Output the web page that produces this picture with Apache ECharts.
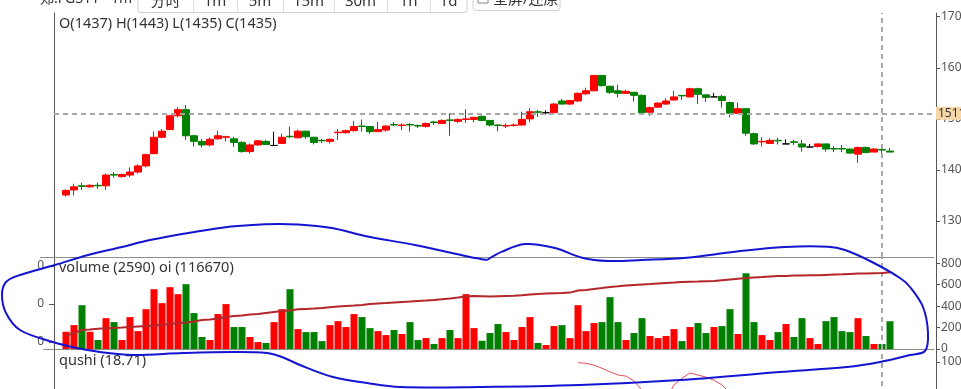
<!DOCTYPE html>
<html><head><meta charset="utf-8">
<script src="https://cdn.jsdelivr.net/npm/echarts@6/dist/echarts.min.js"></script>
<style>html,body{margin:0;padding:0;background:#fff;overflow:hidden}#chart{width:961px;height:389px}</style>
</head><body><div id="chart"></div>
<script>
// ---------- data ----------
const opens  = [1351,1361,1369,1367,1370,1369,1391,1387,1390,1396,1408,1432,1464,1479,1506,1518,1467,1456,1449,1461,1464,1461,1454,1436,1449,1456,1448,1452,1466,1463,1476,1464,1458,1456,1473,1473,1477,1486,1485,1475,1478,1489,1487,1489,1487,1485,1494,1491,1498,1495,1499,1499,1505,1497,1488,1486,1487,1488,1500,1514,1512,1512,1535,1529,1535,1549,1555,1585,1564,1555,1550,1552,1546,1513,1523,1529,1537,1546,1543,1559,1547,1543,1544,1532,1511,1520,1471,1455,1452,1458,1451,1455,1451,1445,1446,1451,1442,1442,1441,1431,1444,1435,1440,1437];
const closes = [1360,1367,1368,1370,1369,1390,1390,1391,1396,1408,1430,1464,1476,1506,1518,1467,1456,1449,1460,1467,1465,1454,1436,1449,1457,1450,1448,1464,1465,1476,1465,1454,1457,1460,1474,1477,1485,1485,1475,1479,1486,1488,1488,1488,1486,1491,1493,1497,1497,1499,1500,1503,1497,1488,1487,1487,1488,1499,1514,1513,1512,1529,1529,1536,1550,1555,1585,1565,1552,1550,1554,1546,1512,1522,1531,1535,1543,1545,1559,1548,1542,1543,1536,1511,1520,1472,1451,1456,1458,1457,1451,1454,1445,1445,1451,1441,1441,1441,1433,1444,1434,1441,1439,1435];
const lows   = [1348,1350,1361,1365,1363,1361,1385,1385,1386,1393,1405,1431,1462,1478,1503,1459,1446,1444,1446,1459,1456,1445,1434,1432,1447,1449,1448,1451,1462,1462,1461,1450,1453,1452,1459,1471,1475,1475,1471,1475,1475,1486,1478,1475,1482,1483,1488,1490,1467,1492,1492,1493,1496,1485,1476,1482,1485,1487,1493,1504,1509,1510,1528,1527,1533,1547,1554,1563,1549,1542,1549,1534,1511,1506,1521,1527,1536,1537,1542,1529,1533,1543,1522,1503,1510,1467,1449,1446,1452,1450,1451,1449,1436,1445,1444,1436,1435,1435,1432,1414,1433,1435,1433,1435];
const highs  = [1362,1373,1375,1372,1375,1393,1396,1393,1405,1411,1432,1475,1480,1508,1523,1527,1469,1461,1464,1477,1467,1465,1456,1452,1459,1459,1475,1471,1485,1479,1477,1465,1461,1462,1480,1479,1496,1499,1486,1494,1487,1494,1491,1492,1489,1493,1496,1499,1511,1501,1519,1504,1507,1497,1490,1491,1491,1514,1521,1518,1517,1531,1539,1536,1552,1561,1586,1586,1564,1567,1557,1552,1548,1524,1532,1540,1555,1546,1561,1561,1547,1551,1547,1534,1532,1520,1473,1464,1462,1463,1460,1459,1459,1451,1452,1451,1447,1449,1441,1446,1446,1443,1445,1443];
const volumes = [1610,2230,4090,1610,840,2880,2510,840,2980,1670,3720,5580,4280,5770,5120,6050,3350,1120,840,3260,4190,2050,2050,1120,650,560,2510,3720,5580,1860,1580,1580,740,2230,2600,2050,3260,2980,1950,1670,1300,1770,1400,2510,840,1020,470,1020,1770,1020,5120,1950,770,1490,2330,1580,840,2050,2980,560,370,2140,2230,1020,4090,1670,2420,2510,4840,2510,840,1490,2880,1210,1020,1210,1860,740,2050,2420,1490,2050,2140,3720,1400,7070,2510,1300,840,1580,2330,1120,2880,1020,470,2600,2980,1670,1580,2880,1210,470,470,2590];
const openInterest = [113320,113470,113630,113660,113700,113720,113740,113760,113790,113820,113840,113870,113910,113950,114000,114030,114080,114160,114180,114240,114320,114370,114400,114450,114470,114530,114580,114630,114660,114720,114740,114760,114790,114830,114870,114900,114920,114950,115000,115030,115050,115080,115110,115130,115160,115180,115210,115250,115290,115340,115400,115420,115410,115400,115410,115420,115430,115460,115500,115530,115550,115570,115580,115600,115710,115740,115790,115840,115900,115930,115970,116000,116030,116050,116080,116110,116130,116160,116170,116180,116200,116210,116250,116290,116330,116370,116400,116420,116450,116470,116480,116500,116500,116510,116510,116530,116550,116560,116580,116600,116610,116620,116630,116670];
const qushi = ['-','-','-','-','-','-','-','-','-','-','-','-','-','-','-','-','-','-','-','-','-','-','-','-','-','-','-','-','-','-','-','-','-','-','-','-','-','-','-','-','-','-','-','-','-','-','-','-','-','-','-','-','-','-','-','-','-','-','-','-','-','-','-','-',98.7,97.5,94,88,81,75,73,63.5,46,35,30,30,56,69,79,75,71,65,56,40,35,30,22,15,10,8,5,4,6,8,10,12,14,15,16,17,17.5,18,18.4,18.71];
const startMinute = 21 * 60;   // category labels (not shown)
const times = opens.map((_, i) => { const m = startMinute + i; return String(Math.floor(m / 60) % 24).padStart(2, '0') + ':' + String(m % 60).padStart(2, '0'); });
const priceTicks = [1300, 1400, 1500, 1600, 1700];
const volumeTicks = [0, 2000, 4000, 6000, 8000];
const oiTicks = [113000, 115000, 117000];
const qushiTicks = [100];
const hoverIndex = 102;
const hoverPrice = 1511;
const toolbarButtons = ['分时', '1m', '5m', '15m', '30m', '1h', '1d'];
// ---------------------------------------------------

const RED = '#ff0000', GREEN = '#008000';
const FONT = '"Noto Sans", "Noto Sans CJK SC", sans-serif';
const LEAD = 1, TRAIL = 5;
const cats = ['s0'].concat(times, ['e1', 'e2', 'e3', 'e4', 'e5']);
const pad = arr => ['-'].concat(arr, new Array(TRAIL).fill('-'));
const last = opens.length - 1;

const candleData = pad(opens.map((o, i) => [o, closes[i], lows[i], highs[i]]));
const volData = pad(volumes.map((v, i) => ({ value: v, itemStyle: { color: closes[i] >= opens[i] ? RED : GREEN } })));
const oiData = pad(openInterest);
const qData = pad(qushi);
const hoverCat = cats[hoverIndex + LEAD];

const dashStyle = { color: '#a8a8a8', width: 2, type: [5, 4] };
const vLine = { silent: true, symbol: ['none', 'none'], animation: false, label: { show: false }, lineStyle: dashStyle, data: [{ xAxis: hoverCat }] };

const xBase = (g, line) => ({
  type: 'category', gridIndex: g, data: cats, boundaryGap: true,
  axisLabel: { show: false }, axisTick: { show: false }, splitLine: { show: false },
  axisLine: { show: line, onZero: false, lineStyle: { color: '#8c8c8c', width: 1 } }
});
const axisCol = '#555';
const plain = v => String(v);
const rightAxis = (g, min, max, ticks) => ({
  type: 'value', gridIndex: g, position: 'right', offset: 2, min, max,
  splitLine: { show: false },
  axisLine: { show: true, onZero: false, lineStyle: { color: axisCol } },
  axisTick: { show: true, length: 4, customValues: ticks, lineStyle: { color: axisCol } },
  axisLabel: { show: true, customValues: ticks, margin: 5, color: '#555', fontSize: 12, fontFamily: FONT, formatter: plain }
});

const grids = [
  { left: 54, top: 13, width: 880, height: 244, outerBoundsMode: 'none', containLabel: false },
  { left: 54, top: 257, width: 880, height: 92, outerBoundsMode: 'none', containLabel: false },
  { left: 54, top: 349, width: 880, height: 100, outerBoundsMode: 'none', containLabel: false }
];

// blue hand-drawn annotation ring (decoration)
const ring = [[487,260],[470,257],[452,253],[415,245],[365,236],[332,228],[298,224.5],[265,224.3],[222,227.7],[150,240],[122,247],[88,255],[55,265],[20,275],[6,282],[2,295],[6,313],[20,330],[53,342],[77,348],[100,352],[133,355],[183,353],[233,352],[267,353],[282,357],[300,365],[333,377],[367,383],[400,387],[480,387],[580,385],[680,380],[780,372],[847,367],[880,362],[910,355],[925,351],[928,333],[923,307],[910,287],[900,278],[872,262],[845,250],[828,246.7],[785,247],[735,251.7],[687,257.7],[642,260],[608,261],[582,257.7],[555,248],[525,244],[502,251.7],[487,260]];

const btnEdges = [138, 193, 237, 283, 334, 387, 430, 467];
const graphics = [];
graphics.push({ type: 'rect', shape: { x: btnEdges[0], y: -20, width: btnEdges[btnEdges.length - 1] - btnEdges[0], height: 32.5, r: 3 }, style: { fill: '#fff', stroke: '#cfcfcf', lineWidth: 1 }, z: 50 });
toolbarButtons.forEach((b, i) => {
  if (i > 0) graphics.push({ type: 'line', shape: { x1: btnEdges[i] + 0.5, y1: -20, x2: btnEdges[i] + 0.5, y2: 12 }, style: { stroke: '#dcdcdc', lineWidth: 1 }, z: 51 });
  graphics.push({ type: 'text', z: 52, style: { x: (btnEdges[i] + btnEdges[i + 1]) / 2, y: 1.5, text: b, align: 'center', verticalAlign: 'middle', font: '15px ' + FONT, fill: '#333' } });
});
graphics.push({ type: 'rect', shape: { x: 473, y: -20, width: 87, height: 30.5, r: 3 }, style: { fill: '#fff', stroke: '#cfcfcf', lineWidth: 1 }, z: 50 });
graphics.push({ type: 'rect', shape: { x: 478, y: -8, width: 10, height: 11 }, style: { fill: '#fff', stroke: '#888', lineWidth: 1 }, z: 51 });
graphics.push({ type: 'text', z: 52, style: { x: 493, y: 0, text: '全屏/还原', align: 'left', verticalAlign: 'middle', font: '15px ' + FONT, fill: '#333' } });
graphics.push({ type: 'text', z: 52, style: { x: 40, y: -1, text: '郑.FG311 - 1m', align: 'left', verticalAlign: 'middle', font: '14px ' + FONT, fill: '#333' } });
graphics.push({ type: 'text', z: 60, style: { x: 59, y: 23.5, text: 'O(' + opens[last] + ') H(' + highs[last] + ') L(' + lows[last] + ') C(' + closes[last] + ')', verticalAlign: 'middle', font: '14.5px ' + FONT, fill: '#333' } });
graphics.push({ type: 'text', z: 60, style: { x: 59, y: 267.5, text: 'volume (' + volumes[last] + ') oi (' + openInterest[last] + ')', verticalAlign: 'middle', font: '14.5px ' + FONT, fill: '#333' } });
graphics.push({ type: 'text', z: 60, style: { x: 59, y: 360.5, text: 'qushi (' + qushi[last] + ')', verticalAlign: 'middle', font: '14.5px ' + FONT, fill: '#333' } });
graphics.push({ type: 'polyline', z: 100, shape: { points: ring, smooth: 0.35 }, style: { stroke: '#1414d2', lineWidth: 2, fill: null } });

const option = {
  animation: false,
  backgroundColor: '#fff',
  grid: grids,
  xAxis: [xBase(0, true), xBase(1, true), xBase(2, false)],
  yAxis: [
    rightAxis(0, 1229.7, 1707.2, priceTicks),
    { type: 'value', gridIndex: 0, position: 'left', min: 1229.7, max: 1707.2, splitLine: { show: false },
      axisLine: { show: true, onZero: false, lineStyle: { color: axisCol } },
      axisTick: { show: true, length: 14, customValues: [1229.7], lineStyle: { color: '#8c8c8c' } }, axisLabel: { show: false } },
    rightAxis(1, 0, 8588, volumeTicks),
    { type: 'value', gridIndex: 1, position: 'left', min: 112632, max: 117474, splitLine: { show: false },
      axisLine: { show: true, onZero: false, lineStyle: { color: axisCol } },
      axisTick: { show: true, length: 5, customValues: oiTicks, lineStyle: { color: axisCol } },
      axisLabel: { show: true, customValues: oiTicks, margin: 10, color: '#555', fontSize: 12, fontFamily: FONT, formatter: v => String(v).slice(-1) } },
    rightAxis(2, -67, 125, qushiTicks),
    { type: 'value', gridIndex: 2, position: 'left', min: -67, max: 125, splitLine: { show: false },
      axisLine: { show: true, onZero: false, lineStyle: { color: axisCol } },
      axisTick: { show: true, length: 11, customValues: [125], lineStyle: { color: '#8c8c8c' } }, axisLabel: { show: false } }
  ],
  series: [
    { type: 'candlestick', name: 'k', xAxisIndex: 0, yAxisIndex: 0, data: candleData, barWidth: 7,
      itemStyle: { color: RED, color0: GREEN, borderColor: RED, borderColor0: GREEN, borderColorDoji: '#000', borderWidth: 1 },
      markLine: { silent: true, symbol: ['none', 'none'], animation: false, lineStyle: dashStyle,
        data: [
          { xAxis: hoverCat, label: { show: false } },
          { yAxis: hoverPrice, label: { show: true, position: 'end', distance: 2, formatter: String(hoverPrice), color: '#333', fontSize: 12, fontFamily: FONT, backgroundColor: '#f6d5a6', padding: [1, 3, 0, 2] } }
        ] } },
    { type: 'bar', name: 'volume', xAxisIndex: 1, yAxisIndex: 2, data: volData, barWidth: 7, markLine: vLine },
    { type: 'line', name: 'oi', xAxisIndex: 1, yAxisIndex: 3, data: oiData, symbol: 'none', z: 5,
      lineStyle: { color: '#b3262a', width: 2 } },
    { type: 'line', name: 'qushi', xAxisIndex: 2, yAxisIndex: 4, data: qData, symbol: 'none', connectNulls: false,
      lineStyle: { color: '#e8505a', width: 1 }, markLine: vLine }
  ],
  graphic: graphics
};
const chart = echarts.init(document.getElementById('chart'));
chart.setOption(option);
</script></body></html>
